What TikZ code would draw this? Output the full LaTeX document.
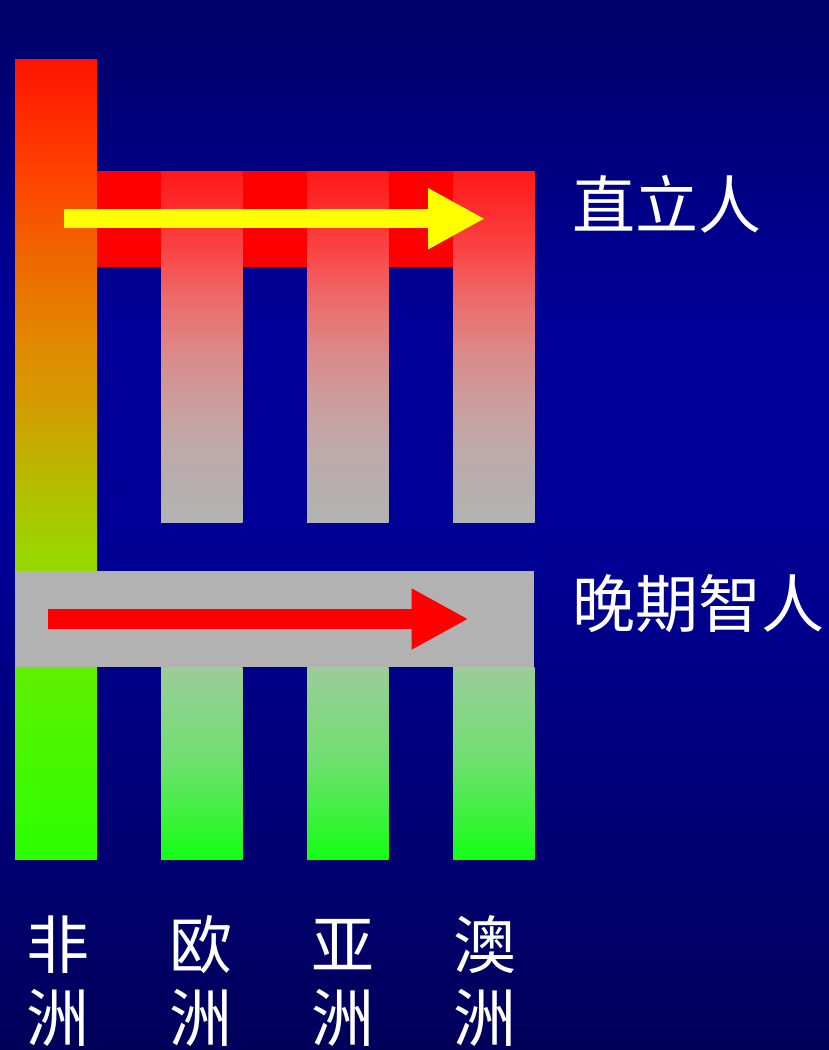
\documentclass[tikz,border=0pt]{standalone}
\usepackage{fontspec}
\newfontfamily\cjk{Noto Sans CJK SC}
\usetikzlibrary{arrows.meta}
\definecolor{bgtop}{HTML}{000068}
\definecolor{bgmid}{HTML}{000098}
\definecolor{bgbot}{HTML}{00005A}
\definecolor{afA}{HTML}{FF1400}
\definecolor{afB}{HTML}{FF4000}
\definecolor{afC}{HTML}{F06400}
\definecolor{afD}{HTML}{DF8C00}
\definecolor{afE}{HTML}{D49A00}
\definecolor{afF}{HTML}{B8BA00}
\definecolor{afG}{HTML}{9CD400}
\definecolor{afH}{HTML}{60F000}
\definecolor{afI}{HTML}{2BFF00}
\definecolor{upA}{HTML}{FF1818}
\definecolor{upB}{HTML}{FA4444}
\definecolor{upC}{HTML}{EC6A6A}
\definecolor{upD}{HTML}{DC8888}
\definecolor{upE}{HTML}{CC9C9C}
\definecolor{upF}{HTML}{BFAAAA}
\definecolor{upG}{HTML}{B4B0B0}
\definecolor{upH}{HTML}{B3B3B3}
\definecolor{loA}{HTML}{9CCC9A}
\definecolor{loB}{HTML}{6EE06E}
\definecolor{loC}{HTML}{14FF14}
\definecolor{bandgray}{HTML}{B2B2B2}
\definecolor{arrowyellow}{HTML}{FFFF00}
% stops placed in the central 25bp..75bp region (mapped onto the path)
\pgfdeclareverticalshading{bgshade}{100bp}{color(0bp)=(bgbot); color(25bp)=(bgbot); color(50bp)=(bgmid); color(60bp)=(bgmid); color(75bp)=(bgtop); color(100bp)=(bgtop)}
\pgfdeclareverticalshading{africashade}{100bp}{color(0bp)=(afI); color(25bp)=(afI); color(37bp)=(afH); color(44.3bp)=(afG); color(48.7bp)=(afF); color(53.7bp)=(afE); color(56.8bp)=(afD); color(63.05bp)=(afC); color(68bp)=(afB); color(75bp)=(afA); color(100bp)=(afA)}
\pgfdeclareverticalshading{uppershade}{100bp}{color(0bp)=(upH); color(25bp)=(upH); color(28.5bp)=(upG); color(35.5bp)=(upF); color(42.5bp)=(upE); color(49.5bp)=(upD); color(57bp)=(upC); color(63.75bp)=(upB); color(75bp)=(upA); color(100bp)=(upA)}
\pgfdeclareverticalshading{lowershade}{100bp}{color(0bp)=(loC); color(25bp)=(loC); color(50bp)=(loB); color(75bp)=(loA); color(100bp)=(loA)}
\tikzset{
  lbl/.style={text=white, inner sep=0pt, font=\cjk\fontsize{63}{63}\selectfont},
  blockarrow/.style={line width=19.4pt, line cap=butt, -{Triangle[width=57pt,length=57pt]}},
}
\begin{document}
\begin{tikzpicture}[x=1pt,y=1pt]
\path[use as bounding box, shading=bgshade] (0,0) rectangle (829,-1050);
% top red band
\fill[red] (97,-171) rectangle (534,-267);
% upper bars (Europe, Asia, Australia)
\foreach \x in {161,307,453}{
  \path[shading=uppershade] (\x,-171) rectangle (\x+81.5,-522.5);
}
% lower bars
\foreach \x in {161,307,453}{
  \path[shading=lowershade] (\x,-667) rectangle (\x+81.5,-859);
}
% Africa bar
\path[shading=africashade] (15,-59) rectangle (97,-859);
% gray band
\fill[bandgray] (15,-571) rectangle (534,-667);
% arrows
\coordinate (ya) at (64,-218.7);
\coordinate (yb) at (485,-218.7);
\draw[blockarrow, draw=arrowyellow, fill=arrowyellow] (ya) -- (yb);
\coordinate (ra) at (48,-619);
\coordinate (rb) at (468.5,-619);
\draw[blockarrow, draw=red, fill=red] (ra) -- (rb);
% labels
\node[lbl, anchor=west] (erectus) at (572,-204) {直立人};
\node[lbl, anchor=west] (sapiens) at (572,-604) {晚期智人};
\node[lbl] (af1) at (58,-945) {非};
\node[lbl] (af2) at (58,-1018) {洲};
\node[lbl] (eu1) at (201,-945) {欧};
\node[lbl] (eu2) at (201,-1018) {洲};
\node[lbl] (as1) at (343,-945) {亚};
\node[lbl] (as2) at (343,-1018) {洲};
\node[lbl] (au1) at (485,-945) {澳};
\node[lbl] (au2) at (485,-1018) {洲};
\end{tikzpicture}
\end{document}
